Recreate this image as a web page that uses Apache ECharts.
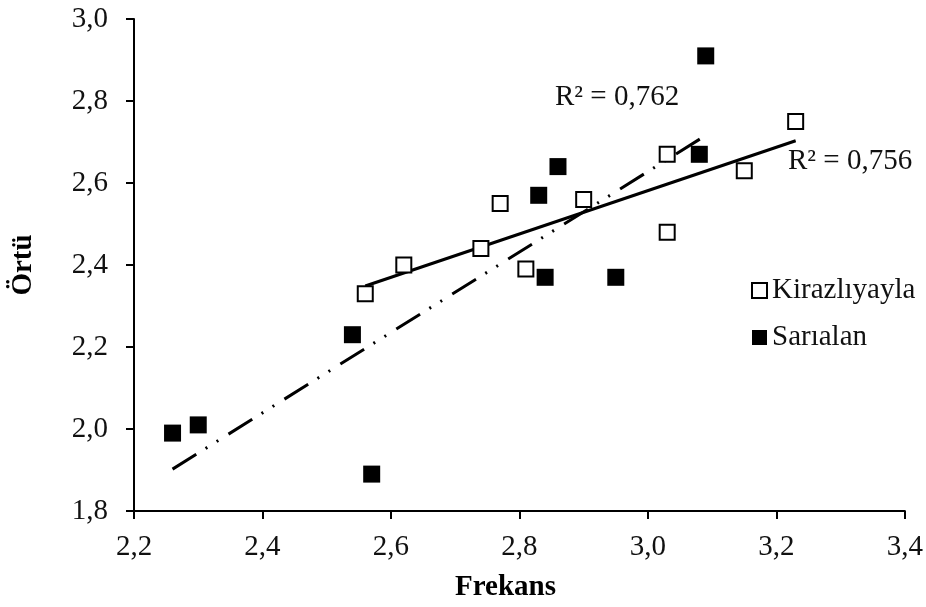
<!DOCTYPE html>
<html>
<head>
<meta charset="utf-8">
<script src="https://cdn.jsdelivr.net/npm/echarts@6/dist/echarts.min.js"></script>
<style>
  html, body { margin: 0; padding: 0; background: #fff; }
  #chart { width: 926px; height: 607px; }
</style>
</head>
<body>
<div id="chart"></div>
<script>
const FONT = "'Liberation Serif', 'Times New Roman', serif"

// Kirazlıyayla (open squares)
const kirazX = [2.56, 2.62, 2.74, 2.77, 2.81, 2.90, 3.03, 3.03, 3.15, 3.23]
const kirazY = [2.33, 2.40, 2.44, 2.55, 2.39, 2.56, 2.67, 2.48, 2.63, 2.75]

// Sarıalan (filled squares)
const sariX = [2.26, 2.30, 2.54, 2.57, 2.83, 2.84, 2.86, 2.95, 3.08, 3.09]
const sariY = [1.99, 2.01, 2.23, 1.89, 2.57, 2.37, 2.64, 2.37, 2.67, 2.91]

const r2Labels = ['R² = 0,756', 'R² = 0,762']

function pairs(xs, ys) {
  return xs.map((x, i) => [x, ys[i]])
}

// least squares trend line spanning the data's x range
function trend(xs, ys) {
  const n = xs.length
  const mx = xs.reduce((a, b) => a + b, 0) / n
  const my = ys.reduce((a, b) => a + b, 0) / n
  let sxy = 0
  let sxx = 0
  for (let i = 0; i < n; i++) {
    sxy += (xs[i] - mx) * (ys[i] - my)
    sxx += (xs[i] - mx) * (xs[i] - mx)
  }
  const slope = sxy / sxx
  const x0 = Math.min(...xs)
  const x1 = Math.max(...xs)
  return [
    [x0, my + slope * (x0 - mx)],
    [x1, my + slope * (x1 - mx)]
  ]
}

const fmt = v => v.toFixed(1).replace('.', ',')

const chart = echarts.init(document.getElementById('chart'))

const axisCommon = {
  axisLine: { show: true, lineStyle: { color: '#000', width: 2 } },
  axisTick: { show: true, inside: false, length: 8, lineStyle: { color: '#000', width: 2 } },
  splitLine: { show: false },
  axisLabel: { color: '#111', fontFamily: FONT, fontSize: 29, formatter: fmt },
  nameTextStyle: { color: '#000', fontFamily: FONT, fontSize: 29, fontWeight: 'bold' }
}

chart.setOption({
  backgroundColor: '#fff',
  animation: false,
  grid: { left: 134, right: 21, top: 19, bottom: 96 },
  xAxis: {
    ...axisCommon,
    type: 'value',
    min: 2.2,
    max: 3.4,
    interval: 0.2,
    name: 'Frekans',
    nameLocation: 'middle',
    nameGap: 62,
    nameTextStyle: { ...axisCommon.nameTextStyle, padding: [0, 28, 0, 0] },
    axisLabel: { ...axisCommon.axisLabel, margin: 22 }
  },
  yAxis: {
    ...axisCommon,
    type: 'value',
    min: 1.8,
    max: 3.0,
    interval: 0.2,
    name: 'Örtü',
    nameLocation: 'middle',
    nameGap: 96,
    axisLabel: { ...axisCommon.axisLabel, margin: 26 }
  },
  legend: {
    orient: 'vertical',
    left: 746,
    top: 271,
    itemWidth: 15,
    itemHeight: 15,
    itemGap: 18,
    textStyle: { color: '#111', fontFamily: FONT, fontSize: 29 },
    data: [
      { name: 'Kirazlıyayla', icon: 'rect', itemStyle: { color: '#fff', borderColor: '#000', borderWidth: 2, opacity: 1 } },
      { name: 'Sarıalan', icon: 'rect', itemStyle: { color: '#000', opacity: 1 } }
    ]
  },
  series: [
    {
      name: 'Kirazlıyayla trend',
      type: 'line',
      data: trend(kirazX, kirazY),
      showSymbol: false,
      silent: true,
      lineStyle: { color: '#000', width: 3 },
      z: 1
    },
    {
      name: 'Sarıalan trend',
      type: 'line',
      data: trend(sariX, sariY),
      showSymbol: false,
      silent: true,
      lineStyle: { color: '#000', width: 3, type: [28, 11, 2, 11, 2, 12] },
      z: 1
    },
    {
      name: 'Kirazlıyayla',
      type: 'scatter',
      symbol: 'rect',
      symbolSize: 15,
      data: pairs(kirazX, kirazY),
      itemStyle: { color: '#fff', borderColor: '#000', borderWidth: 2, opacity: 1 },
      z: 3
    },
    {
      name: 'Sarıalan',
      type: 'scatter',
      symbol: 'rect',
      symbolSize: 17,
      data: pairs(sariX, sariY),
      itemStyle: { color: '#000', opacity: 1 },
      z: 3
    }
  ],
  graphic: [
    {
      type: 'text',
      left: 788,
      top: 147,
      style: { text: r2Labels[0], font: '29px ' + FONT, fill: '#111' }
    },
    {
      type: 'text',
      left: 555,
      top: 83,
      style: { text: r2Labels[1], font: '29px ' + FONT, fill: '#111' }
    }
  ]
})
</script>
</body>
</html>
